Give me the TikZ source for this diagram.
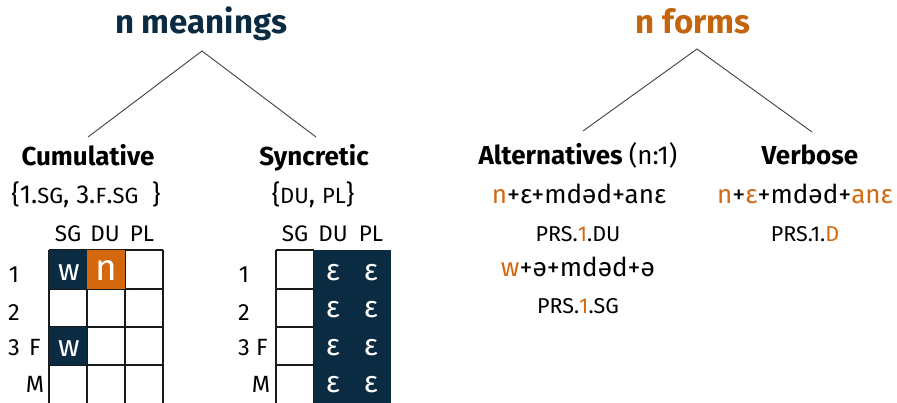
\documentclass[tikz,border=0pt]{standalone}
\usepackage{fontspec}
\setmainfont{Fira Sans}
\definecolor{navy}{HTML}{0A2B42}
\definecolor{orng}{HTML}{D5680E}
\definecolor{orngT}{HTML}{C4640C}
\definecolor{gridc}{HTML}{1A1A1A}
\newcommand\fsz[1]{\fontsize{#1}{#1}\selectfont}
\newcommand\gl[1]{{\fsz{22}#1}}
\begin{document}
\begin{tikzpicture}[x=1pt,y=-1pt,
  every node/.style={inner sep=0pt,outer sep=0pt,anchor=base},
  title/.style={font=\fsz{33}\bfseries},
  head/.style={font=\fsz{26}\bfseries},
  setl/.style={font=\fsz{26}},
  gloss/.style={font=\fsz{21.5}},
  colh/.style={font=\fsz{22.5}},
  rowl/.style={font=\fsz{23.5}},
  cellw/.style={font=\fsz{30},text=white},
  gridline/.style={draw=gridc,line width=1.1pt},
  branch/.style={draw=black!75,line width=0.9pt}]
\useasboundingbox (0,0) rectangle (897,402);

% titles
\node[title,text=navy] (t1) at (201,33) {n meanings};
\node[title,text=orngT] (t2) at (693,33) {n forms};

% branch points
\coordinate (a1) at (202,51);
\coordinate (l1) at (88,137);
\coordinate (r1) at (316,137);
\coordinate (a2) at (697,49);
\coordinate (l2) at (583,131);
\coordinate (r2) at (812,132);
\draw[branch] (l1) -- (a1) -- (r1);
\draw[branch] (l2) -- (a2) -- (r2);

% left headings
\node[head] (cum) at (88,165) {Cumulative};
\node[head] (syn) at (314,165) {Syncretic};
\node[setl] (cset) at (86,203) {\{1.\gl{SG}, 3.\gl{F}.\gl{SG}\ \ \}};
\node[setl] (sset) at (313,203) {\{\gl{DU}, \gl{PL}\}};

% right headings
\node[head] (alt) at (578,164) {Alternatives {\mdseries(n:1)}};
\node[head] (verb) at (810,164) {Verbose};
\node[setl] (f1) at (579,203) {\textcolor{orng}{n}+ε+mdəd+anε};
\node[gloss] (g1) at (578,241) {PRS.\textcolor{orng}{1}.DU};
\node[setl] (f2) at (578,276) {\textcolor{orng}{w}+ə+mdəd+ə};
\node[gloss] (g2) at (578,313) {PRS.\textcolor{orng}{1}.SG};
\node[setl] (f3) at (805,203) {\textcolor{orng}{n}+\textcolor{orng}{ε}+mdəd+\textcolor{orng}{anε}};
\node[gloss] (g3) at (805,241) {PRS.1.\textcolor{orng}{D}};

% left grid
\foreach \c/\x in {SG/68,DU/105,PL/142}{\node[colh] at (\x,241) {\c};}
\foreach \x in {49,87,125,163}{\draw[gridline] (\x,250) -- (\x,404);}
\foreach \y in {250,289,327,365}{\draw[gridline] (49,\y) -- (163,\y);}
\fill[navy] (48.5,249.5) rectangle (87,289);
\fill[orng] (87,249.5) rectangle (125,289);
\fill[navy] (48.5,327) rectangle (87,365);
\node[cellw] (w1) at (69,280) {w};
\node[cellw,font=\fsz{37}] (n1) at (106,280) {n};
\node[cellw] (w3) at (69,356) {w};
\node[rowl] at (14,282) {1};
\node[rowl] at (14,320) {2};
\node[rowl] at (14,355) {3};
\node[rowl] at (35,355) {F};
\node[rowl] at (35,392) {M};

% right grid
\foreach \c/\x in {SG/295,DU/333,PL/371}{\node[colh] at (\x,241) {\c};}
\foreach \x in {276,314}{\draw[gridline] (\x,250) -- (\x,404);}
\foreach \y in {250,289,327,365}{\draw[gridline] (276,\y) -- (314,\y);}
\fill[navy] (314,249.5) rectangle (390.5,404);
\foreach \y in {280,317,355,392}{
  \node[cellw] at (333,\y) {ε};
  \node[cellw] at (371,\y) {ε};
}
\node[rowl] at (244,282) {1};
\node[rowl] at (244,320) {2};
\node[rowl] at (244,355) {3};
\node[rowl] at (262,355) {F};
\node[rowl] at (261,392) {M};
\end{tikzpicture}
\end{document}
